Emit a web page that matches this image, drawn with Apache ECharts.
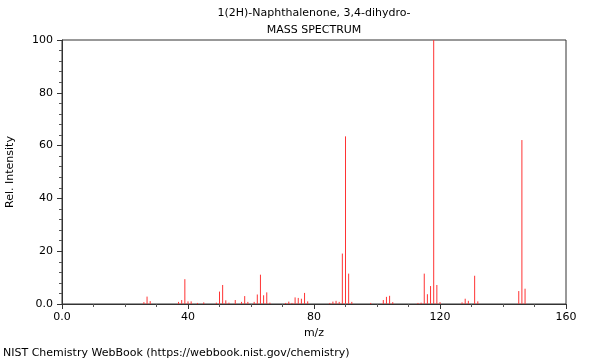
<!DOCTYPE html>
<html>
<head>
<meta charset="utf-8">
<script src="https://cdn.jsdelivr.net/npm/echarts@6/dist/echarts.min.js"></script>
<style>html,body{margin:0;padding:0;background:#fff}#c{width:600px;height:360px}</style>
</head>
<body>
<div id="c"></div>
<script>
var titleLines = ['1(2H)-Naphthalenone, 3,4-dihydro-', 'MASS SPECTRUM'];
var footer = 'NIST Chemistry WebBook (https://webbook.nist.gov/chemistry)';
var mz = [26,27,28,37,38,39,40,41,43,45,49,50,51,52,53,55,57,58,59,61,62,63,64,65,66,71,72,73,74,75,76,77,78,85,86,87,88,89,90,91,92,98,102,103,104,105,113,114,115,116,117,118,119,120,127,128,129,131,132,145,146,147];
var intensity = [0.7,2.8,1.1,0.8,1.5,9.4,1.0,1.0,0.4,0.6,0.5,4.7,7.2,1.4,0.5,1.5,0.8,3.0,0.8,0.8,3.6,11.1,3.3,4.4,0.5,0.4,0.9,0.4,2.5,2.3,2.0,4.2,1.0,0.4,0.9,1.2,0.8,19.1,63.5,11.5,0.8,0.4,1.5,2.7,3.1,0.7,0.4,0.5,11.5,3.7,6.8,100,7.2,0.7,0.6,2.0,1.2,10.7,1.0,4.9,62.1,5.8];
var xTicks = [0,40,80,120,160];
var yTicks = [0,20,40,60,80,100];

var data = mz.map(function(m,i){return [m, intensity[i]];});
var fmt = function(v){return v===0?'0.0':String(v);};
var chart = echarts.init(document.getElementById('c'), null, {renderer:'canvas'});
var font = 'DejaVu Sans';
chart.setOption({
  animation:false,
  backgroundColor:'#fff',
  textStyle:{fontFamily:font},
  grid:{left:62,right:34,top:40,bottom:56,show:true,borderColor:'#333',borderWidth:1,backgroundColor:'transparent',containLabel:false,outerBoundsMode:'none'},
  graphic:[
    {type:'text',x:314,y:8,style:{text:titleLines[0],font:'11px '+font,fill:'#000',textAlign:'center'}},
    {type:'text',x:314,y:25,style:{text:titleLines[1],font:'11px '+font,fill:'#000',textAlign:'center'}},
    {type:'text',x:3,y:348,style:{text:footer,font:'11px '+font,fill:'#000'}}
  ],
  xAxis:{type:'value',min:xTicks[0],max:xTicks[xTicks.length-1],interval:40,
    name:'m/z',nameLocation:'middle',nameGap:23,nameTextStyle:{fontSize:11,color:'#000',fontFamily:font},
    axisLine:{show:true,lineStyle:{color:'#333',width:1}},
    axisTick:{show:true,length:5,lineStyle:{color:'#333'}},
    minorTick:{show:true,splitNumber:4,length:3,lineStyle:{color:'#555'}},
    splitLine:{show:false},
    axisLabel:{fontSize:11,color:'#000',margin:8,formatter:fmt,fontFamily:font}},
  yAxis:{type:'value',min:yTicks[0],max:yTicks[yTicks.length-1],interval:20,
    name:'Rel. Intensity',nameLocation:'middle',nameGap:46,nameRotate:90,nameTextStyle:{fontSize:11,color:'#000',fontFamily:font},
    axisLine:{show:true,lineStyle:{color:'#333',width:1}},
    axisTick:{show:true,length:5,lineStyle:{color:'#333'}},
    minorTick:{show:true,splitNumber:5,length:3,lineStyle:{color:'#555'}},
    splitLine:{show:false},
    axisLabel:{fontSize:11,color:'#000',margin:9,formatter:fmt,fontFamily:font}},
  series:[{type:'custom',data:data,silent:true,clip:true,
    encode:{x:0,y:1},
    renderItem:function(params,api){
      var p0 = api.coord([api.value(0),0]);
      var p1 = api.coord([api.value(0),api.value(1)]);
      return {type:'line',shape:{x1:p0[0],y1:p0[1],x2:p1[0],y2:p1[1]},style:{stroke:'#ff3333',lineWidth:1}};
    }}]
});
</script>
</body>
</html>
